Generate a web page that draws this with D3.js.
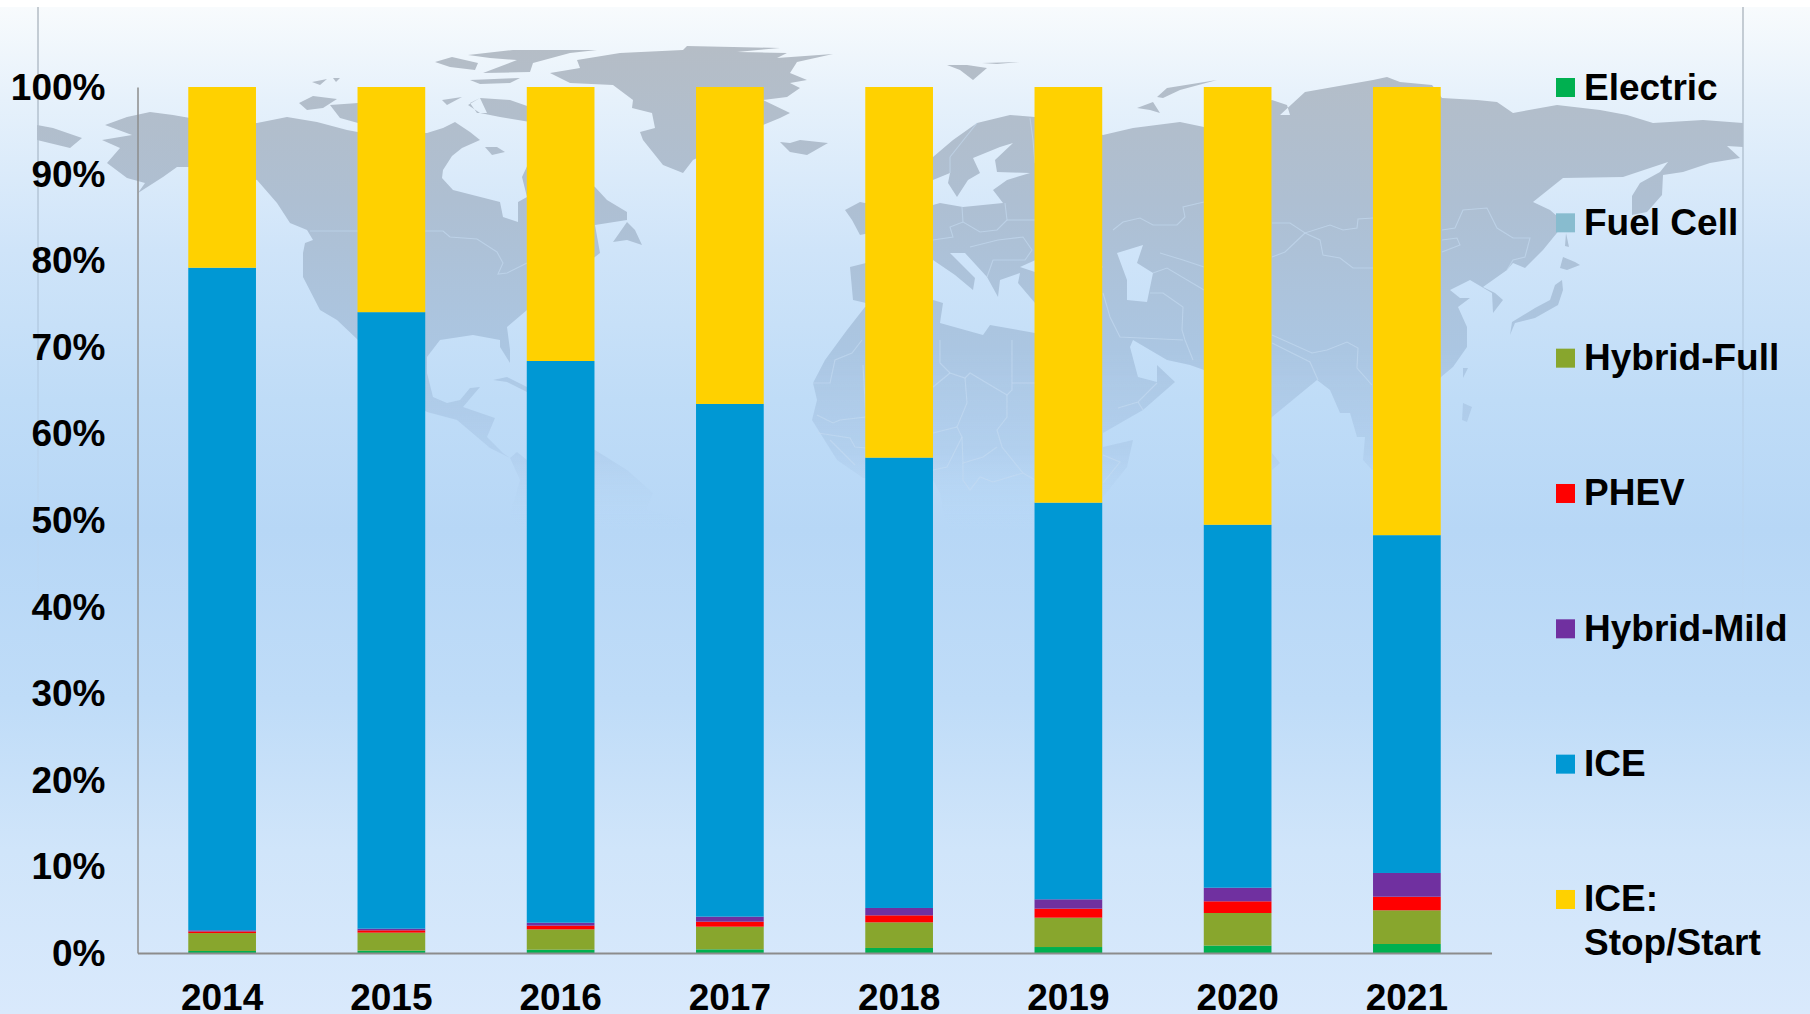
<!DOCTYPE html>
<html>
<meta charset="utf-8">
<style>
html, body { margin: 0; padding: 0; background: #fff; }
svg { display: block; }
text { font-family: "Liberation Sans", Arial, sans-serif; font-weight: bold; fill: #000; }
.axis text { font-size: 37px; }
.axis .domain { stroke: #8c8c8c; stroke-width: 2px; }
.border { fill: none; stroke: #c6dcf2; stroke-width: 1.1px; stroke-opacity: 0.6; }
</style>
<svg width="1810" height="1014"></svg>
<script src="https://d3js.org/d3.v7.min.js"></script>
<script>

// chart values (% of sales)
var years = ["2014", "2015", "2016", "2017", "2018", "2019", "2020", "2021"]
var electric  = [0.23, 0.27, 0.38, 0.42, 0.58, 0.69, 0.85, 1.04]
var fuelCell  = [0, 0, 0, 0, 0, 0, 0, 0]
var hybridFull = [2.07, 2.08, 2.35, 2.62, 2.96, 3.39, 3.77, 3.89]
var phev      = [0.19, 0.27, 0.43, 0.58, 0.81, 1.04, 1.35, 1.57]
var hybridMild = [0.13, 0.19, 0.34, 0.58, 0.85, 1.08, 1.57, 2.74]
var ice       = [76.51, 71.19, 64.86, 59.2, 52.0, 45.8, 41.91, 39.01]
var stopStart = [20.87, 26.0, 31.64, 36.6, 42.8, 48.0, 50.55, 51.75]

var seriesNames = ["Electric", "Fuel Cell", "Hybrid-Full", "PHEV", "Hybrid-Mild", "ICE", "ICE:|Stop/Start"]
var seriesValues = [electric, fuelCell, hybridFull, phev, hybridMild, ice, stopStart]
var seriesColors = ["#00b050", "#88bccf", "#88a62d", "#ff0000", "#7030a0", "#0098d4", "#ffd100"]
var yTicks = [0, 10, 20, 30, 40, 50, 60, 70, 80, 90, 100]

// background map, traced by hand in page pixels
var land = [
  // north america
  [[105,125],[127,117],[150,112],[173,115],[190,118],[257,123],[287,117],[317,122],[347,130],[363,133],[427,133],[443,128],[455,122],[470,132],[480,140],[462,148],[452,156],[443,170],[442,178],[453,190],[500,202],[503,217],[518,222],[518,202],[527,197],[522,177],[530,160],[560,165],[595,187],[607,200],[627,212],[627,220],[595,225],[600,253],[527,310],[507,327],[510,350],[510,363],[500,347],[500,340],[473,335],[440,340],[427,357],[427,373],[433,397],[447,403],[460,400],[470,388],[480,387],[463,407],[495,418],[487,437],[503,453],[510,458],[490,448],[457,420],[427,412],[385,388],[358,340],[337,320],[320,310],[303,277],[303,253],[305,243],[313,240],[307,230],[290,223],[277,203],[257,180],[190,167],[177,167],[163,177],[138,193],[145,183],[127,178],[107,163],[120,148],[102,140],[132,135]],
  // south america
  [[510,458],[517,452],[527,460],[560,445],[595,450],[627,470],[653,493],[646,510],[690,520],[660,545],[530,545],[510,515],[520,480]],
  // greenland
  [[577,60],[620,53],[683,50],[687,46],[733,47],[780,48],[737,52],[787,53],[777,58],[833,54],[797,62],[790,73],[807,80],[790,83],[800,88],[787,97],[763,100],[790,113],[780,118],[763,125],[693,160],[683,173],[663,165],[643,140],[640,132],[655,128],[652,113],[632,108],[633,100],[613,85],[570,83],[550,73],[580,68]],
  // arctic islands
  [[468,55],[513,50],[597,50],[570,53],[533,63],[530,72],[483,73],[517,60],[490,58]],
  [[470,80],[520,78],[510,83],[480,84]],
  [[435,62],[452,57],[478,63],[475,70],[450,67]],
  [[468,105],[480,98],[510,100],[530,107],[560,130],[530,122],[500,117],[480,113]],
  [[442,100],[462,97],[447,105]],
  [[299,103],[313,96],[337,99],[323,108],[307,110]],
  [[330,105],[358,103],[395,112],[392,122],[358,123],[340,118]],
  [[312,82],[327,79],[320,85]],
  [[333,78],[340,78],[336,82]],
  [[470,103],[480,98],[487,113],[477,113]],
  [[485,147],[497,147],[505,152],[492,155]],
  [[37,125],[53,128],[82,138],[70,148],[37,140]],
  [[613,242],[627,222],[635,230],[642,245],[627,240]],
  [[780,142],[790,143],[800,140],[828,143],[807,155],[790,152]],
  // svalbard, novaya zemlya
  [[947,65],[967,65],[987,68],[973,80],[960,70]],
  [[982,63],[1020,62],[997,64]],
  [[1137,108],[1153,102],[1160,113],[1150,110]],
  [[1157,97],[1167,88],[1217,80],[1180,90],[1163,98]],
  // ireland, britain
  [[845,210],[860,202],[865,203],[880,200],[885,230],[860,235],[852,220]],
  // eurasia
  [[900,180],[933,157],[953,140],[977,123],[1010,115],[1035,117],[1103,135],[1133,128],[1180,122],[1204,127],[1272,100],[1287,105],[1290,115],[1280,115],[1305,92],[1373,80],[1387,77],[1400,82],[1432,85],[1442,98],[1477,100],[1497,102],[1513,113],[1557,105],[1600,110],[1627,115],[1653,123],[1703,120],[1743,123],[1743,147],[1727,146],[1740,158],[1710,163],[1683,172],[1663,175],[1662,195],[1647,212],[1632,215],[1632,196],[1640,183],[1660,172],[1668,162],[1653,167],[1623,177],[1563,178],[1533,202],[1550,210],[1565,223],[1543,250],[1525,268],[1513,263],[1507,270],[1483,287],[1495,293],[1503,300],[1493,313],[1492,293],[1470,280],[1450,290],[1460,298],[1470,298],[1458,307],[1467,327],[1467,347],[1453,367],[1441,377],[1400,450],[1372,470],[1363,460],[1365,437],[1357,437],[1350,413],[1340,413],[1330,390],[1317,380],[1272,417],[1250,450],[1220,400],[1204,370],[1190,365],[1167,360],[1133,340],[1130,347],[1138,377],[1157,382],[1157,365],[1175,382],[1143,410],[1103,433],[1075,370],[1060,340],[1035,303],[1018,283],[1020,273],[1000,280],[998,297],[987,277],[965,253],[950,253],[975,278],[973,290],[955,275],[933,260],[905,262],[866,263],[850,267],[853,300],[866,303],[905,280],[895,262],[880,225],[933,205],[940,203],[963,207],[1003,203],[993,190],[1007,180],[1030,173],[997,172],[995,160],[1013,143],[1000,147],[973,158],[980,173],[968,180],[957,197],[948,183],[950,173],[933,180]],
  // black sea and caspian, cut out of eurasia by evenodd
  [[1020,267],[1040,258],[1075,255],[1103,267],[1075,276],[1035,272]],
  [[1117,253],[1143,245],[1137,263],[1153,273],[1147,302],[1127,300],[1127,280]],
  // africa
  [[813,383],[825,360],[847,330],[865,307],[933,300],[943,303],[940,323],[983,335],[990,325],[1035,333],[1075,375],[1103,433],[1103,447],[1133,440],[1127,467],[1103,497],[1075,545],[950,560],[947,530],[940,493],[933,480],[863,478],[837,460],[812,420],[817,400]],
  // japan and the small eastern islands
  [[1563,257],[1575,262],[1580,265],[1567,270],[1560,268]],
  [[1562,280],[1563,290],[1558,305],[1535,318],[1515,323],[1510,335],[1512,322],[1535,308],[1550,300],[1555,285]],
  [[1566,233],[1569,247],[1565,246]],
  [[1463,368],[1468,368],[1463,378]],
  [[1463,403],[1472,407],[1467,422],[1462,420]],
  [[1272,453],[1280,463],[1272,470]],
  // cuba
  [[493,380],[507,377],[527,387],[527,392],[507,382]]
]

var borders = [
  [[310,231],[443,231],[450,237],[477,239],[497,252],[503,263],[498,274],[507,273],[527,263]],
  [[950,157],[977,123]],
  [[950,157],[950,173]],
  [[1030,118],[1033,140],[1035,163]],
  [[962,207],[963,222],[980,232],[997,230],[1007,220],[1005,203]],
  [[933,240],[953,237],[950,227],[963,222]],
  [[1007,220],[1035,220]],
  [[970,247],[998,240],[1023,237],[1032,250],[1025,260],[993,260],[987,277]],
  [[1113,230],[1123,222],[1140,218],[1153,225],[1177,225],[1185,217],[1183,207],[1204,202]],
  [[1160,253],[1183,260],[1204,267]],
  [[1153,273],[1167,268],[1204,290]],
  [[1150,293],[1163,293],[1183,307],[1182,330],[1185,340],[1193,360]],
  [[1103,293],[1110,317],[1120,337],[1183,340]],
  [[1272,223],[1290,223],[1305,233],[1330,225],[1343,230],[1357,228],[1358,219],[1373,218]],
  [[1305,233],[1320,240],[1323,255],[1340,258],[1353,268],[1373,268]],
  [[1305,233],[1285,252],[1272,257]],
  [[1442,230],[1455,228],[1463,210],[1487,208],[1497,228],[1513,238],[1530,238],[1525,257],[1513,260],[1507,270]],
  [[1442,252],[1460,245],[1457,238],[1442,240]],
  [[1272,335],[1312,353],[1327,350],[1347,342],[1358,348],[1357,368],[1372,385]],
  [[1272,343],[1310,362],[1318,380]],
  [[940,340],[940,363],[950,373],[965,378],[970,373],[1007,395],[1012,390],[1012,340]],
  [[1012,383],[1035,383]],
  [[1007,395],[1007,417],[997,430],[1002,447],[1023,473],[1035,480]],
  [[965,378],[967,403],[957,427],[962,437],[947,467],[933,470]],
  [[957,427],[933,433]],
  [[962,437],[963,463],[983,457],[997,447]],
  [[963,463],[963,480],[970,490],[980,477],[993,482],[1023,473]],
  [[950,373],[933,387]],
  [[862,340],[852,353],[835,360],[830,383],[813,383]],
  [[863,365],[866,417]],
  [[817,415],[833,423],[840,420],[866,417]],
  [[818,433],[850,438],[855,447],[866,448]],
  [[830,440],[855,465]],
  [[1118,408],[1138,402],[1157,383]],
  [[1138,402],[1143,410]],
  [[1103,455],[1120,462],[1103,483]]
]

var svg = d3.select("svg"),
    margin = {top: 87, right: 318.5, bottom: 61, left: 137.5},
    width = +svg.attr("width"),
    height = +svg.attr("height")

var defs = svg.append("defs")

function gradient(id, stops) {
  var g = defs.append("linearGradient")
      .attr("id", id)
      .attr("gradientUnits", "userSpaceOnUse")
      .attr("x1", 0).attr("y1", 0)
      .attr("x2", 0).attr("y2", height)
  g.selectAll("stop")
      .data(stops)
      .enter().append("stop")
      .attr("offset", function(d) { return d[0] / height })
      .attr("stop-color", function(d) { return d[1] })
      .attr("stop-opacity", function(d) { return d[2] })
}

gradient("sky", [[7, "#f8fbfd", 1], [100, "#e6f1fb", 1], [250, "#cfe4f9", 1], [400, "#bfdcf7", 1],
                 [530, "#b7d7f6", 1], [700, "#bfdcf8", 1], [850, "#d0e5fa", 1], [1014, "#d9e9fc", 1]])
gradient("landFill", [[45, "#b5bdc6", 1], [200, "#aebfd2", 1], [350, "#abc6e2", 1],
                      [450, "#afcdec", 0.8], [530, "#b7d7f6", 0]])
gradient("edge", [[7, "#b4bcc4", 1], [350, "#b4cde6", 1], [720, "#bfdcf8", 0]])

// the map in the reference is a slightly soft image
defs.append("filter")
    .attr("id", "soft")
    .append("feGaussianBlur")
    .attr("stdDeviation", 0.6)

svg.append("rect")
    .attr("y", 7)
    .attr("width", width)
    .attr("height", height - 7)
    .attr("fill", "url(#sky)")

// thin frame lines left and right of the picture
svg.selectAll(".edge")
    .data([38, 1743])
    .enter().append("rect")
    .attr("class", "edge")
    .attr("x", function(d) { return d - 0.75 })
    .attr("y", 7)
    .attr("width", 1.5)
    .attr("height", 713)
    .attr("fill", "url(#edge)")

var outline = d3.line()

var map = svg.append("g")
    .attr("filter", "url(#soft)")

map.append("path")
    .attr("d", land.map(function(d) { return outline(d) + "Z" }).join(""))
    .attr("fill", "url(#landFill)")
    .attr("fill-rule", "evenodd")

map.selectAll(".border")
    .data(borders)
    .enter().append("path")
    .attr("class", "border")
    .attr("d", outline)

var x = d3.scaleBand()
    .domain(years)
    .range([margin.left, width - margin.right])
    .paddingInner(0.6)
    .paddingOuter(0.3)

var y = d3.scaleLinear()
    .domain([0, 100])
    .range([height - margin.bottom, margin.top])

var table = years.map(function(year, i) {
  var row = {year: year}
  seriesNames.forEach(function(name, s) { row[name] = seriesValues[s][i] })
  return row
})

var stacked = d3.stack().keys(seriesNames)(table)

svg.selectAll(".series")
    .data(stacked)
    .enter().append("g")
    .attr("class", "series")
    .attr("fill", function(d, i) { return seriesColors[i] })
    .selectAll("rect")
    .data(function(d) { return d })
    .enter().append("rect")
    .attr("x", function(d) { return x(d.data.year) })
    .attr("y", function(d) { return y(d[1]) })
    .attr("width", x.bandwidth())
    .attr("height", function(d) { return y(d[0]) - y(d[1]) })

// axes
var yAxis = svg.append("g")
    .attr("class", "axis")
    .attr("transform", "translate(" + margin.left + ",0)")
    .call(d3.axisLeft(y).tickValues(yTicks).tickSize(0).tickSizeOuter(0).tickPadding(32)
      .tickFormat(function(d) { return d + "%" }))

yAxis.select(".domain").style("stroke-width", "1.5px")
yAxis.selectAll("text").attr("dy", "12.5px")

var xAxis = svg.append("g")
    .attr("class", "axis")
    .attr("transform", "translate(0," + (height - margin.bottom) + ")")
    .call(d3.axisBottom(x).tickSize(0).tickSizeOuter(0).tickPadding(30))

xAxis.selectAll("text").attr("dy", "27px")

// legend
var legend = svg.selectAll(".legend")
    .data(seriesNames)
    .enter().append("g")
    .attr("class", "legend")
    .attr("transform", function(d, i) { return "translate(1556," + (78 + i * 135.33) + ")" })

legend.append("rect")
    .attr("width", 19)
    .attr("height", 19)
    .attr("fill", function(d, i) { return seriesColors[i] })

legend.append("text")
    .attr("y", 21.5)
    .style("font-size", "37px")
    .selectAll("tspan")
    .data(function(d) { return d.split("|") })
    .enter().append("tspan")
    .attr("x", 28)
    .attr("dy", function(d, i) { return i ? 44 : 0 })
    .text(function(d) { return d })

</script>
</html>
